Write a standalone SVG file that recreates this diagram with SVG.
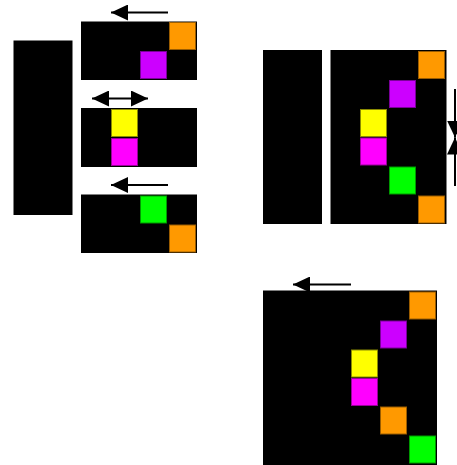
<svg xmlns="http://www.w3.org/2000/svg" width="457" height="465" viewBox="0 0 457 465">
<style>
.blk{fill:#000}
.c{stroke-width:1}
.or{fill:#FF9900;stroke:#9a5c00}
.pu{fill:#CC00FF;stroke:#7a0099}
.ye{fill:#FFFF00;stroke:#8a8a00}
.ma{fill:#FF00FF;stroke:#990099}
.gr{fill:#00FF00;stroke:#009900}
.ar{fill:none;stroke:#000;stroke-width:2}
</style>
<defs>
<marker id="ah" markerUnits="userSpaceOnUse" markerWidth="17" markerHeight="16" refX="17" refY="8" orient="auto-start-reverse">
<path d="M0,0 L17,8 L0,16 z" fill="#000"/>
</marker>
</defs>
<g id="left-block"><rect class="blk" x="13.5" y="40.5" width="59" height="174.5"/></g>
<g id="panel-top">
<rect class="blk" x="81" y="21.5" width="116" height="58.5"/>
<rect class="c or" x="169.5" y="22.5" width="26" height="27"/>
<rect class="c pu" x="140.5" y="51.5" width="26" height="27"/>
</g>
<g id="panel-middle">
<rect class="blk" x="81" y="108" width="116" height="59"/>
<rect class="c ye" x="111.5" y="109.5" width="26" height="27"/>
<rect class="c ma" x="111.5" y="138.5" width="26" height="27"/>
</g>
<g id="panel-bottom">
<rect class="blk" x="81" y="194.5" width="116" height="58.5"/>
<rect class="c gr" x="140.5" y="196" width="26" height="27"/>
<rect class="c or" x="169.5" y="225" width="26" height="27"/>
</g>
<g id="right-block"><rect class="blk" x="263" y="50" width="59" height="174"/></g>
<g id="right-panel">
<rect class="blk" x="330.5" y="50" width="116" height="174"/>
<rect class="c or" x="418.5" y="51.5" width="26" height="27"/>
<rect class="c pu" x="389.5" y="80.5" width="26" height="27"/>
<rect class="c ye" x="360.5" y="109.5" width="26" height="27"/>
<rect class="c ma" x="360.5" y="138" width="26" height="27"/>
<rect class="c gr" x="389.5" y="167" width="26" height="27"/>
<rect class="c or" x="418.5" y="196" width="26" height="27"/>
</g>
<g id="merged-panel">
<rect class="blk" x="263" y="290.5" width="174" height="174.5"/>
<rect class="c or" x="409.5" y="292" width="26" height="27"/>
<rect class="c pu" x="380.5" y="321" width="26" height="27"/>
<rect class="c ye" x="351.5" y="350" width="26" height="27"/>
<rect class="c ma" x="351.5" y="378.5" width="26" height="27"/>
<rect class="c or" x="380.5" y="407" width="26" height="27"/>
<rect class="c gr" x="409.5" y="436" width="26" height="27"/>
</g>
<g id="connectors">
<line class="ar" x1="168" y1="12.5" x2="111" y2="12.5" marker-end="url(#ah)"/>
<line class="ar" x1="92" y1="98.5" x2="148" y2="98.5" marker-start="url(#ah)" marker-end="url(#ah)"/>
<line class="ar" x1="168" y1="185" x2="111" y2="185" marker-end="url(#ah)"/>
<line class="ar" x1="455" y1="89" x2="455" y2="137.5" marker-end="url(#ah)"/>
<line class="ar" x1="455" y1="186" x2="455" y2="137.5" marker-end="url(#ah)"/>
<line class="ar" x1="351" y1="284.5" x2="293" y2="284.5" marker-end="url(#ah)"/>
</g>
</svg>
